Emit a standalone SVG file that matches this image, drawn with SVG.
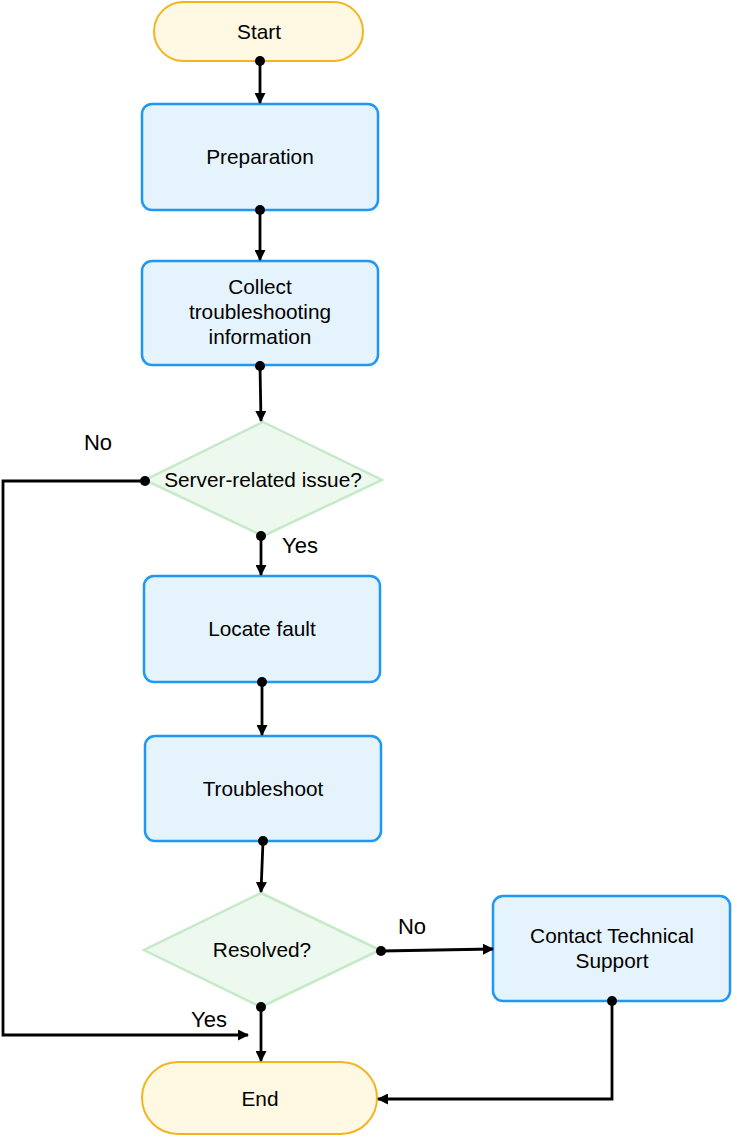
<svg xmlns="http://www.w3.org/2000/svg" width="732" height="1136" viewBox="0 0 732 1136">
<defs>
<style>
.term{fill:#FFF8E3;stroke:#F4B420;stroke-width:2}
.proc{fill:#E5F3FD;stroke:#1E98F2;stroke-width:2.5}
.dec{fill:#EDF8EE;stroke:#C5EAC8;stroke-width:2.5}
.t{font-family:"Liberation Sans",Arial,sans-serif;font-size:20.8px;fill:#000;text-anchor:middle}
.lbl{font-family:"Liberation Sans",Arial,sans-serif;font-size:22px;fill:#000;text-anchor:middle}
.c{fill:none;stroke:#000;stroke-width:2.8}
.dot{fill:#000}
</style>
<marker id="arr" markerWidth="11" markerHeight="11" refX="10" refY="5.5" orient="auto" markerUnits="userSpaceOnUse">
<path d="M0,0 L11,5.5 L0,11 Z" fill="#000"/>
</marker>
</defs>
<g id="start"><rect class="term" x="154" y="2" width="209" height="59" rx="29.5"/><text class="t" x="259" y="39">Start</text></g>
<g id="preparation"><rect class="proc" x="142" y="104" width="236" height="106" rx="10"/><text class="t" x="260" y="164">Preparation</text></g>
<g id="collect"><rect class="proc" x="142" y="261" width="236" height="104" rx="10"/><text class="t" x="260" y="294">Collect</text><text class="t" x="260" y="319">troubleshooting</text><text class="t" x="260" y="344">information</text></g>
<g id="server"><polygon class="dec" points="263,422 382,480 263,536 145,480"/><text class="t" x="263" y="487">Server-related issue?</text></g>
<g id="locate"><rect class="proc" x="144" y="576" width="236" height="106" rx="10"/><text class="t" x="262" y="636">Locate fault</text></g>
<g id="troubleshoot"><rect class="proc" x="145" y="736" width="236" height="105" rx="10"/><text class="t" x="263" y="796">Troubleshoot</text></g>
<g id="resolved"><polygon class="dec" points="261,893 380,950 261,1007 144,950"/><text class="t" x="262" y="957">Resolved?</text></g>
<g id="contact"><rect class="proc" x="493" y="896" width="237" height="105" rx="10"/><text class="t" x="612" y="943">Contact Technical</text><text class="t" x="612" y="968">Support</text></g>
<g id="end"><rect class="term" x="142" y="1062" width="235" height="72" rx="36"/><text class="t" x="260" y="1106">End</text></g>
<g id="connectors">
<path class="c" d="M260,61 L260,103" marker-end="url(#arr)"/><circle class="dot" cx="260" cy="61" r="5"/>
<path class="c" d="M260,210 L260,260" marker-end="url(#arr)"/><circle class="dot" cx="260" cy="210" r="5"/>
<path class="c" d="M260,366 L261,421" marker-end="url(#arr)"/><circle class="dot" cx="260" cy="366" r="5"/>
<path class="c" d="M261,536 L261,575" marker-end="url(#arr)"/><circle class="dot" cx="261" cy="536" r="5"/>
<path class="c" d="M262,682 L262,735" marker-end="url(#arr)"/><circle class="dot" cx="262" cy="682" r="5"/>
<path class="c" d="M263,841 L261,892" marker-end="url(#arr)"/><circle class="dot" cx="263" cy="841" r="5"/>
<path class="c" d="M145,481 L3,481 L3,1035 L248,1035" marker-end="url(#arr)"/><circle class="dot" cx="145" cy="481" r="5"/>
<path class="c" d="M381,951 L493,949" marker-end="url(#arr)"/><circle class="dot" cx="381" cy="951" r="5"/>
<path class="c" d="M261,1007 L261,1061" marker-end="url(#arr)"/><circle class="dot" cx="261" cy="1007" r="5"/>
<path class="c" d="M612,1001 L612,1099 L378,1099" marker-end="url(#arr)"/><circle class="dot" cx="612" cy="1001" r="5"/>
<text class="lbl" x="98" y="450">No</text>
<text class="lbl" x="300" y="553">Yes</text>
<text class="lbl" x="412" y="934">No</text>
<text class="lbl" x="209" y="1027">Yes</text>
</g>
</svg>
